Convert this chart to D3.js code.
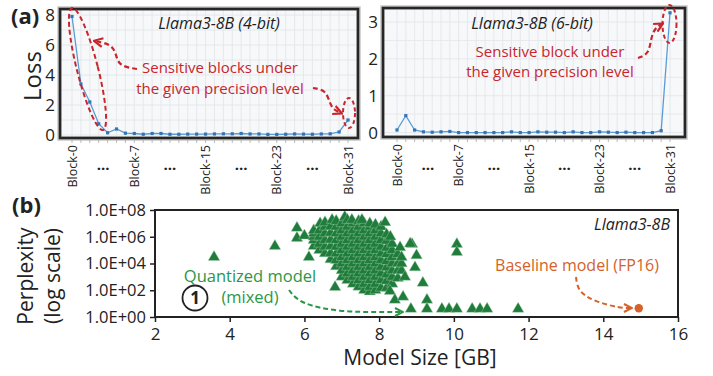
<!DOCTYPE html>
<html>
<head>
<meta charset="utf-8">
<script src="https://cdn.jsdelivr.net/npm/d3@7"></script>
<style>
  body { margin: 0; background: #fff; }
  svg { display: block; }
  text { font-family: "Open Sans", sans-serif; }
</style>
</head>
<body>
<svg id="chart" width="713" height="376"></svg>
<script>
// ---- data ----
const blocks = d3.range(32);
const blockTickLabels = [[0, "Block-0"], [7, "Block-7"], [15, "Block-15"], [23, "Block-23"], [31, "Block-31"]];
const dotsAt = [3.5, 11, 19, 27];

const loss4bit = [7.9, 3.4, 2.2, 0.75, 0.15, 0.4, 0.12, 0.1, 0.05, 0.1, 0.1, 0.05, 0.05, 0.06, 0.06, 0.06,
                  0.07, 0.08, 0.08, 0.1, 0.07, 0.07, 0.04, 0.04, 0.05, 0.07, 0.06, 0.05, 0.07, 0.08, 0.2, 1.0];
const loss6bit = [0.07, 0.46, 0.07, 0.02, 0.01, 0.02, 0.03, 0.0, 0.0, 0.0, 0.0, 0.0, 0.0, 0.02, 0.0, 0.0,
                  0.02, 0.01, 0.01, 0.0, 0.02, 0.0, 0.0, 0.02, 0.01, 0.0, 0.01, 0.0, 0.0, 0.0, 0.05, 3.25];

const lossTicks4 = [0, 2, 4, 6, 8];
const lossTicks6 = [0, 1, 2, 3];

const sizeTicks = [2, 4, 6, 8, 10, 12, 14, 16];
const pplTicks = [1, 1e2, 1e4, 1e6, 1e8];

// quantized models: [model size GB, perplexity]
const quantPoints = [
  [3.58, 3e4], [5.21, 2e5], [5.8, 4.5e6], [5.8, 8e5], [6.0, 1.2e6], [6.12, 3e4], [6.82, 1.7e2],
  [6.25, 2e5], [6.25, 5.6e5], [6.25, 1e6], [6.25, 1.8e6], [6.25, 3e6],
  [6.4, 1e5], [6.4, 3e5], [6.4, 1e6], [6.4, 3e6], [6.42, 1e7],
  [6.55, 5.6e4], [6.55, 1.8e5], [6.55, 5.6e5], [6.55, 1.8e6], [6.55, 5.6e6], [6.55, 1.2e7],
  [6.7, 2e4], [6.7, 6e4], [6.7, 2e5], [6.7, 6e5], [6.7, 2e6], [6.7, 6e6], [6.74, 1.8e7],
  [6.85, 6e3], [6.85, 1.8e4], [6.85, 5.6e4], [6.85, 1.8e5], [6.85, 5.6e5], [6.85, 1.8e6], [6.85, 5.6e6], [6.85, 1.5e7],
  [7.0, 1e3], [7.0, 3e3], [7.0, 1e4], [7.0, 3e4], [7.0, 1e5], [7.0, 3e5], [7.0, 1e6], [7.0, 3e6], [7.0, 1e7], [7.08, 3e7],
  [7.15, 5.6e2], [7.15, 1.8e3], [7.15, 5.6e3], [7.15, 1.8e4], [7.15, 5.6e4], [7.15, 1.8e5], [7.15, 5.6e5], [7.15, 1.8e6], [7.15, 5.6e6], [7.15, 1.8e7],
  [7.3, 3e2], [7.3, 1e3], [7.3, 3e3], [7.3, 1e4], [7.3, 3e4], [7.3, 1e5], [7.3, 3e5], [7.3, 1e6], [7.3, 3e6], [7.3, 1e7], [7.27, 1.8e7],
  [7.45, 1.8e2], [7.45, 5.6e2], [7.45, 1.8e3], [7.45, 5.6e3], [7.45, 1.8e4], [7.45, 5.6e4], [7.45, 1.8e5], [7.45, 5.6e5], [7.45, 1.8e6], [7.45, 5.6e6], [7.45, 1.5e7],
  [7.6, 1e2], [7.6, 3e2], [7.6, 1e3], [7.6, 3e3], [7.6, 1e4], [7.6, 3e4], [7.6, 1e5], [7.6, 3e5], [7.6, 1e6], [7.6, 3e6], [7.6, 1e7], [7.54, 1.8e7],
  [7.75, 8e1], [7.75, 1.8e2], [7.75, 5.6e2], [7.75, 1.8e3], [7.75, 5.6e3], [7.75, 1.8e4], [7.75, 5.6e4], [7.75, 1.8e5], [7.75, 5.6e5], [7.75, 1.8e6], [7.75, 5.6e6], [7.75, 1e7],
  [7.9, 1e2], [7.9, 3e2], [7.9, 1e3], [7.9, 3e3], [7.9, 1e4], [7.9, 3e4], [7.9, 1e5], [7.9, 3e5], [7.9, 1e6], [7.9, 3e6], [7.9, 8e6],
  [8.05, 1.5e2], [8.05, 5.6e2], [8.05, 1.8e3], [8.05, 5.6e3], [8.05, 1.8e4], [8.05, 5.6e4], [8.05, 1.8e5], [8.05, 5.6e5], [8.05, 1.8e6], [8.05, 5.6e6],
  [8.2, 1.5e2], [8.2, 5e2], [8.2, 1.5e3], [8.2, 5e3], [8.2, 1.5e4], [8.2, 5e4], [8.2, 1.5e5], [8.2, 5e5], [8.2, 1.5e6], [8.16, 1.2e7],
  [8.35, 3e2], [8.35, 1e3], [8.35, 3e3], [8.35, 1e4], [8.35, 3e4], [8.35, 1e5], [8.35, 3e5], [8.3, 1e6],
  [8.5, 8e2], [8.5, 3e3], [8.5, 1e4], [8.5, 5e4], [8.56, 1.6e5],
  [8.6, 3e3], [8.6, 1e4], [8.6, 3e4],
  [8.88, 2.8e5], [8.83, 3e5], [9.0, 4e4], [8.96, 5e3], [8.69, 1e3], [9.17, 3.5e2], [8.29, 87],
  [8.42, 19], [8.64, 32], [9.28, 19], [10.08, 2.8e5], [10.08, 7e4],
  [8.85, 4], [9.28, 4], [9.68, 4], [9.87, 4], [10.08, 4], [10.49, 4], [10.7, 4], [10.89, 4], [11.72, 4]
];
const baselinePoint = [14.95, 4.5];

// ---- drawing ----
const svg = d3.select("#chart");
const red = "#c8262c", green = "#2b9646", orange = "#d4622a";

const defs = svg.append("defs");
function arrowMarker(id, color) {
  defs.append("marker").attr("id", id)
    .attr("viewBox", "0 0 10 10").attr("refX", 8).attr("refY", 5)
    .attr("markerWidth", 5).attr("markerHeight", 5)
    .attr("orient", "auto-start-reverse")
    .append("path").attr("d", "M1,1 L9,5 L1,9").attr("fill", "none")
    .attr("stroke", color).attr("stroke-width", 2);
}
arrowMarker("arR", red);
arrowMarker("arG", green);
arrowMarker("arO", orange);

function lossPanel(cfg) {
  const x = d3.scaleLinear().domain([0, 31]).range(cfg.xr);
  const y = d3.scaleLinear().domain(cfg.yd).range([cfg.y1, cfg.y0]);
  const g = svg.append("g");
  const [L, R] = cfg.frame;

  g.append("rect").attr("x", L).attr("y", cfg.y0).attr("width", R - L).attr("height", cfg.y1 - cfg.y0)
    .attr("fill", "#f6f8fa");
  // grid
  g.selectAll(".vg").data(blocks).join("line")
    .attr("x1", d => x(d)).attr("x2", d => x(d))
    .attr("y1", cfg.y0).attr("y2", cfg.y1)
    .attr("stroke", "#e2e5e9").attr("stroke-width", 0.8);
  g.selectAll(".hg").data(d3.range(0, cfg.yd[1], cfg.gridStep)).join("line")
    .attr("x1", L).attr("x2", R)
    .attr("y1", d => y(d)).attr("y2", d => y(d))
    .attr("stroke", "#e2e5e9").attr("stroke-width", 0.8);

  // line + markers
  const line = d3.line().x((d, i) => x(i)).y(d => y(d));
  g.append("path").datum(cfg.values).attr("d", line)
    .attr("fill", "none").attr("stroke", "#5b9bd5").attr("stroke-width", 1.3);
  g.selectAll(".pt").data(cfg.values).join("rect")
    .attr("x", (d, i) => x(i) - 1.6).attr("y", d => y(d) - 1.6)
    .attr("width", 3.2).attr("height", 3.2).attr("fill", "#3275b8");

  // frame
  g.append("rect").attr("x", L - 0.5).attr("y", cfg.y0 - 0.5).attr("width", R - L + 1).attr("height", cfg.y1 - cfg.y0 + 1)
    .attr("fill", "none").attr("stroke", "#c8c8c8").attr("stroke-width", 4.5);
  g.append("rect").attr("x", L).attr("y", cfg.y0).attr("width", R - L).attr("height", cfg.y1 - cfg.y0)
    .attr("fill", "none").attr("stroke", "#262626").attr("stroke-width", 2.6);

  // small ticks under the frame
  g.selectAll(".bt").data(blocks).join("line")
    .attr("x1", d => x(d)).attr("x2", d => x(d))
    .attr("y1", cfg.y1 + 2).attr("y2", cfg.y1 + 5)
    .attr("stroke", "#aaa").attr("stroke-width", 0.8);

  // y tick labels
  g.selectAll(".yl").data(cfg.yTicks).join("text")
    .attr("x", L - 5).attr("y", d => y(d)).attr("dy", "0.36em")
    .attr("text-anchor", "end").attr("font-size", 17).attr("fill", "#222")
    .text(d => d);

  // x tick labels (rotated)
  g.selectAll(".xl").data(blockTickLabels).join("text")
    .attr("transform", d => `translate(${x(d[0]) + 4.5},${cfg.y1 + 7}) rotate(-90)`)
    .attr("text-anchor", "end").attr("font-size", 12.5).attr("fill", "#222")
    .text(d => d[1]);
  g.selectAll(".dl").data(dotsAt).join("text")
    .attr("x", d => x(d)).attr("y", 170)
    .attr("text-anchor", "middle").attr("font-size", 15).attr("font-weight", "bold").attr("fill", "#222")
    .text("...");

  g.append("text").attr("x", cfg.titleX).attr("y", 29)
    .attr("text-anchor", "middle").attr("font-size", 16).attr("font-style", "italic").attr("fill", "#222")
    .text(cfg.title);
  return { x, y };
}

lossPanel({ xr: [72, 348], frame: [60, 358], y0: 9, y1: 138, yd: [-0.2, 8.4], gridStep: 1,
  values: loss4bit, yTicks: lossTicks4, title: "Llama3-8B (4-bit)", titleX: 219 });
lossPanel({ xr: [397, 670], frame: [383, 685], y0: 8, y1: 137, yd: [-0.12, 3.38], gridStep: 0.5,
  values: loss6bit, yTicks: lossTicks6, title: "Llama3-8B (6-bit)", titleX: 532 });

// panel labels
svg.append("text").attr("x", 11).attr("y", 24).attr("font-size", 22).attr("font-weight", "bold").attr("fill", "#222").text("(a)");
svg.append("text").attr("x", 12).attr("y", 213).attr("font-size", 22).attr("font-weight", "bold").attr("fill", "#222").text("(b)");
svg.append("text").attr("transform", "translate(41,76) rotate(-90)").attr("text-anchor", "middle")
  .attr("font-size", 24).attr("fill", "#222").text("Loss");

// annotations, top-left
svg.append("ellipse").attr("cx", 87.5).attr("cy", 69).attr("rx", 10.5).attr("ry", 63)
  .attr("transform", "rotate(-14.3,87.5,69)")
  .attr("fill", "none").attr("stroke", red).attr("stroke-width", 2).attr("stroke-dasharray", "5,3");
svg.append("ellipse").attr("cx", 349).attr("cy", 113).attr("rx", 6).attr("ry", 15)
  .attr("fill", "none").attr("stroke", red).attr("stroke-width", 2).attr("stroke-dasharray", "4,3");
const curve = d3.line().curve(d3.curveBasis);
svg.append("path").attr("d", curve([[137, 69], [118, 66], [116, 52], [110, 44], [95, 41]]))
  .attr("fill", "none").attr("stroke", red).attr("stroke-width", 2.2).attr("stroke-dasharray", "5,3")
  .attr("marker-end", "url(#arR)");
svg.append("path").attr("d", curve([[313, 88], [326, 90], [330, 104], [334, 110], [341, 113]]))
  .attr("fill", "none").attr("stroke", red).attr("stroke-width", 2.2).attr("stroke-dasharray", "5,3")
  .attr("marker-end", "url(#arR)");
svg.append("text").attr("x", 220).attr("y", 73).attr("text-anchor", "middle").attr("font-size", 15).attr("fill", red)
  .text("Sensitive blocks under");
svg.append("text").attr("x", 220).attr("y", 94).attr("text-anchor", "middle").attr("font-size", 15).attr("fill", red)
  .text("the given precision level");

// annotations, top-right
svg.append("ellipse").attr("cx", 669.5).attr("cy", 24).attr("rx", 7).attr("ry", 19)
  .attr("fill", "none").attr("stroke", red).attr("stroke-width", 2).attr("stroke-dasharray", "4,3");
svg.append("path").attr("d", curve([[638, 58], [649, 54], [651, 38], [655, 28], [662, 24]]))
  .attr("fill", "none").attr("stroke", red).attr("stroke-width", 2.2).attr("stroke-dasharray", "5,3")
  .attr("marker-end", "url(#arR)");
svg.append("text").attr("x", 550).attr("y", 57).attr("text-anchor", "middle").attr("font-size", 15).attr("fill", red)
  .text("Sensitive block under");
svg.append("text").attr("x", 550).attr("y", 77).attr("text-anchor", "middle").attr("font-size", 15).attr("fill", red)
  .text("the given precision level");

// ---- bottom scatter ----
const bx = d3.scaleLinear().domain([2, 16]).range([155, 678]);
const by = d3.scaleLog().domain([1, 1e8]).range([317, 210]);
const gb = svg.append("g");

gb.append("g").attr("transform", "translate(0,317)")
  .call(d3.axisBottom(bx).tickValues(sizeTicks).tickSize(5).tickPadding(6))
  .call(a => a.select(".domain").remove())
  .call(a => a.selectAll("line").attr("stroke", "#222").attr("stroke-width", 1.5))
  .call(a => a.selectAll("text").attr("font-family", "Liberation Sans, Arial, sans-serif").attr("font-size", 17).attr("fill", "#222"));
gb.append("g").attr("transform", "translate(155,0)")
  .call(d3.axisLeft(by).tickValues(pplTicks).tickSize(5).tickPadding(4)
    .tickFormat(d => "1.0E+" + String(Math.round(Math.log10(d))).padStart(2, "0")))
  .call(a => a.select(".domain").remove())
  .call(a => a.selectAll("line").attr("stroke", "#222").attr("stroke-width", 1.5))
  .call(a => a.selectAll("text").attr("font-family", "Liberation Sans, Arial, sans-serif").attr("font-size", 16.5).attr("fill", "#222"));

const tri = d3.symbol(d3.symbolTriangle, 58);
gb.selectAll(".q").data(quantPoints).join("path")
  .attr("d", tri).attr("transform", d => `translate(${bx(d[0])},${by(d[1])})`)
  .attr("fill", "#1f7c3b").attr("stroke", "#a9d4b3").attr("stroke-width", 0.4);

gb.append("circle").attr("cx", bx(baselinePoint[0])).attr("cy", by(baselinePoint[1])).attr("r", 4.2)
  .attr("fill", orange);

gb.append("rect").attr("x", 155).attr("y", 210).attr("width", 523).attr("height", 107)
  .attr("fill", "none").attr("stroke", "#222").attr("stroke-width", 2);

svg.append("text").attr("x", 670).attr("y", 230).attr("text-anchor", "end")
  .attr("font-size", 16).attr("font-style", "italic").attr("fill", "#222").text("Llama3-8B");
svg.append("text").attr("x", 577).attr("y", 271).attr("text-anchor", "middle")
  .attr("font-size", 16).attr("fill", orange).text("Baseline model (FP16)");
svg.append("path").attr("d", curve([[576, 277], [578, 292], [596, 302], [620, 308], [631, 308]]))
  .attr("fill", "none").attr("stroke", orange).attr("stroke-width", 2).attr("stroke-dasharray", "5,3")
  .attr("marker-end", "url(#arO)");

svg.append("text").attr("x", 250).attr("y", 282).attr("text-anchor", "middle")
  .attr("font-size", 16.5).attr("fill", green).text("Quantized model");
svg.append("text").attr("x", 250).attr("y", 303).attr("text-anchor", "middle")
  .attr("font-size", 16.5).attr("fill", green).text("(mixed)");
svg.append("path").attr("d", curve([[289, 290], [300, 304], [340, 312], [380, 312], [402, 312]]))
  .attr("fill", "none").attr("stroke", green).attr("stroke-width", 2).attr("stroke-dasharray", "5,3")
  .attr("marker-end", "url(#arG)");

svg.append("circle").attr("cx", 195).attr("cy", 298).attr("r", 12.5)
  .attr("fill", "none").attr("stroke", "#222").attr("stroke-width", 1.8);
svg.append("text").attr("x", 195).attr("y", 304).attr("text-anchor", "middle")
  .attr("font-size", 17).attr("font-weight", "bold").attr("fill", "#222").text("1");

svg.append("text").attr("x", 420).attr("y", 365).attr("text-anchor", "middle")
  .attr("font-size", 21).attr("fill", "#222").text("Model Size [GB]");
svg.append("text").attr("transform", "translate(33,276) rotate(-90)").attr("text-anchor", "middle")
  .attr("font-size", 21).attr("fill", "#222").text("Perplexity");
svg.append("text").attr("transform", "translate(60,276) rotate(-90)").attr("text-anchor", "middle")
  .attr("font-size", 21).attr("fill", "#222").text("(log scale)");
</script>
</body>
</html>
